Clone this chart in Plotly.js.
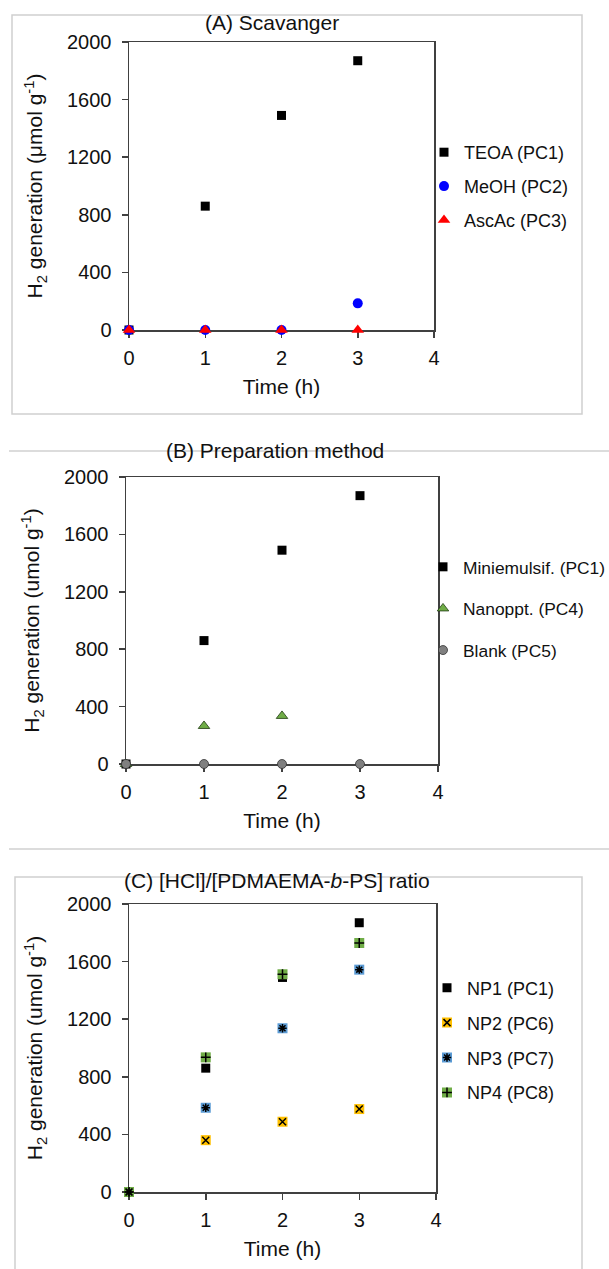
<!DOCTYPE html>
<html>
<head>
<meta charset="utf-8">
<script src="https://cdn.plot.ly/plotly-3.0.1.min.js"></script>
<style>html,body{margin:0;padding:0;background:#fff;}#chart{width:609px;height:1269px;}</style>
</head>
<body>
<div id="chart"></div>
<script>
// ---- data ----
const timeH = [0, 1, 2, 3];
const timeNano = [0, 1, 2];
// Panel A: scavenger
const teoaPC1 = [0, 860, 1490, 1870];
const meohPC2 = [0, 0, 0, 185];
const ascacPC3 = [0, 0, 0, 0];
// Panel B: preparation method
const miniPC1 = [0, 860, 1490, 1870];
const nanoPC4 = [0, 265, 335];
const blankPC5 = [0, 0, 0, 0];
// Panel C: [HCl]/[PDMAEMA-b-PS] ratio
const np1PC1 = [0, 860, 1490, 1870];
const np2PC6 = [0, 360, 488, 576];
const np3PC7 = [0, 585, 1137, 1544];
const np4PC8 = [0, 935, 1512, 1729];
const xTicks = [0, 1, 2, 3, 4];
const yTicks = [0, 400, 800, 1200, 1600, 2000];

const FONT = 'Liberation Sans, Arial, sans-serif';
const H = 1269, W = 609;
const px = v => v / W;
const py = v => 1 - v / H;

function sc(x, y, name, xa, ya, legend, marker, extra) {
  return Object.assign({
    type: 'scatter', mode: 'markers', x: x, y: y, name: name,
    xaxis: xa, yaxis: ya, legend: legend, legendgroup: name + legend,
    cliponaxis: false, marker: marker
  }, extra || {});
}

const traces = [
  sc(timeH, teoaPC1, 'TEOA (PC1)', 'x', 'y', 'legend', {symbol: 'square', size: 9, color: '#000'}),
  sc(timeH, meohPC2, 'MeOH (PC2)', 'x', 'y', 'legend', {symbol: 'circle', size: 10, color: '#0000ff'}),
  sc(timeH, ascacPC3, 'AscAc (PC3)', 'x', 'y', 'legend', {symbol: 'triangle-up', size: 11, color: '#ff0000'}),

  sc(timeH, miniPC1, 'Miniemulsif. (PC1)', 'x2', 'y2', 'legend2', {symbol: 'square', size: 9, color: '#000'}),
  sc(timeNano, nanoPC4, 'Nanoppt. (PC4)', 'x2', 'y2', 'legend2', {symbol: 'triangle-up', size: 10, color: '#70ad47', line: {color: '#1e3a10', width: 0.8}}),
  sc(timeH, blankPC5, 'Blank (PC5)', 'x2', 'y2', 'legend2', {symbol: 'circle', size: 9, color: '#808080', line: {color: '#333', width: 0.8}}),

  sc(timeH, np1PC1, 'NP1 (PC1)', 'x3', 'y3', 'legend3', {symbol: 'square', size: 9, color: '#000'}),
  sc(timeH, np2PC6, 'NP2 (PC6)', 'x3', 'y3', 'legend3', {symbol: 'square', size: 10, color: '#ffc000'}),
  sc(timeH, np3PC7, 'NP3 (PC7)', 'x3', 'y3', 'legend3', {symbol: 'square', size: 10, color: '#5b9bd5'}),
  sc(timeH, np4PC8, 'NP4 (PC8)', 'x3', 'y3', 'legend3', {symbol: 'square', size: 10, color: '#70ad47'}),
  // black glyphs drawn on top of the coloured squares
  sc(timeH, np1PC1, 'NP1 (PC1)', 'x3', 'y3', 'legend4', {symbol: 'square', size: 9, color: 'rgba(0,0,0,0)'}),
  sc(timeH, np2PC6, 'NP2 (PC6)', 'x3', 'y3', 'legend4', {symbol: 'x-thin', size: 7, color: '#000', line: {color: '#000', width: 1.5}}),
  sc(timeH, np3PC7, 'NP3 (PC7)', 'x3', 'y3', 'legend4', {symbol: 'asterisk', size: 7, color: '#000', line: {color: '#000', width: 1.5}}),
  sc(timeH, np4PC8, 'NP4 (PC8)', 'x3', 'y3', 'legend4', {symbol: 'cross-thin', size: 7, color: '#000', line: {color: '#000', width: 1.5}})
];

function xax(d0, d1, anchor) {
  return {
    domain: [px(d0), px(d1)], anchor: anchor, range: [0, 4],
    tickmode: 'array', tickvals: xTicks, ticktext: xTicks.map(String),
    showline: true, mirror: true, linecolor: '#404040', linewidth: 1.5,
    ticks: 'outside', ticklen: 6, tickwidth: 1.5, tickcolor: '#404040',
    showgrid: false, zeroline: false, layer: 'below traces',
    ticklabelstandoff: 3,
    tickfont: {family: FONT, size: 20, color: '#111'},
    title: {text: 'Time (h)', font: {family: FONT, size: 21, color: '#111'}, standoff: 12}
  };
}
function yax(t, b, anchor, unit) {
  return {
    domain: [py(b), py(t)], anchor: anchor, range: [0, 2000],
    tickmode: 'array', tickvals: yTicks, ticktext: yTicks.map(String),
    showline: true, mirror: true, linecolor: '#404040', linewidth: 1.5,
    ticks: 'outside', ticklen: 6, tickwidth: 1.5, tickcolor: '#404040',
    showgrid: false, zeroline: false, layer: 'below traces',
    ticklabelstandoff: 6,
    tickfont: {family: FONT, size: 20, color: '#111'},
    title: {text: 'H<sub>2</sub> generation (' + unit + 'mol g<sup>-1</sup>)', font: {family: FONT, size: 21, color: '#111'}, standoff: 18}
  };
}

function leg(xl, ytop, gap) {
  return {
    x: px(xl), y: py(ytop), xanchor: 'left', yanchor: 'top',
    bgcolor: 'rgba(0,0,0,0)', borderwidth: 0,
    font: {family: FONT, size: 18, color: '#111'},
    tracegroupgap: gap, traceorder: 'grouped'
  };
}

const layout = {
  width: W, height: H, margin: {l: 0, r: 0, t: 0, b: 0, autoexpand: false},
  paper_bgcolor: '#fff', plot_bgcolor: '#fff',
  font: {family: FONT, size: 18, color: '#111'},
  xaxis: xax(129, 434, 'y'), yaxis: yax(42, 330, 'x', 'μ'),
  xaxis2: xax(126, 438, 'y2'), yaxis2: yax(477, 764, 'x2', 'u'),
  xaxis3: xax(129, 436, 'y3'), yaxis3: yax(904, 1192, 'x3', 'u'),
  legend: leg(424, 134, 7.5),
  legend2: Object.assign(leg(423, 549, 16), {font: {family: FONT, size: 17.4, color: '#111'}}),
  legend3: leg(427, 969.5, 8.5),
  legend4: Object.assign(leg(427, 969.5, 8.5), {font: {family: FONT, size: 18, color: 'rgba(0,0,0,0)'}}),
  shapes: [
    {type: 'rect', xref: 'paper', yref: 'paper', x0: px(12), x1: px(582), y0: py(414), y1: py(15), line: {color: '#d0d0d0', width: 1.5}, layer: 'below'},
    {type: 'line', xref: 'paper', yref: 'paper', x0: px(9), x1: 1, y0: py(451), y1: py(451), line: {color: '#d0d0d0', width: 1.5}, layer: 'below'},
    {type: 'line', xref: 'paper', yref: 'paper', x0: px(9), x1: 1, y0: py(849), y1: py(849), line: {color: '#d0d0d0', width: 1.5}, layer: 'below'},
    {type: 'rect', xref: 'paper', yref: 'paper', x0: px(15), x1: px(582), y0: py(1275), y1: py(877), line: {color: '#d0d0d0', width: 1.5}, layer: 'below'}
  ],
  annotations: [
    {text: '(A) Scavanger', xref: 'paper', yref: 'paper', x: px(272), y: py(22), xanchor: 'center', yanchor: 'middle', showarrow: false, font: {family: FONT, size: 21, color: '#111'}},
    {text: '(B) Preparation method', xref: 'paper', yref: 'paper', x: px(275), y: py(451), xanchor: 'center', yanchor: 'middle', showarrow: false, font: {family: FONT, size: 21, color: '#111'}},
    {text: '(C) [HCl]/[PDMAEMA-<i>b</i>-PS] ratio', xref: 'paper', yref: 'paper', x: px(277), y: py(880), xanchor: 'center', yanchor: 'middle', showarrow: false, font: {family: FONT, size: 21, color: '#111'}}
  ],
  showlegend: true
};

Plotly.newPlot('chart', traces, layout, {staticPlot: true, displayModeBar: false});
</script>
</body>
</html>
